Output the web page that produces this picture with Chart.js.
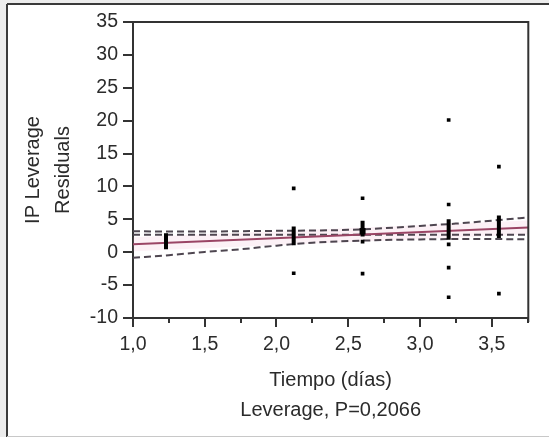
<!DOCTYPE html>
<html>
<head>
<meta charset="utf-8">
<script src="https://cdn.jsdelivr.net/npm/chart.js@4/dist/chart.umd.min.js"></script>
<style>
  html, body { margin: 0; padding: 0; background: #efefef; }
  #wrap { width: 549px; height: 437px; position: relative; }
</style>
</head>
<body>
<div id="wrap"><canvas id="c" width="549" height="437"></canvas></div>
<script>
// ---- data ----
const xTickValues = [1.0, 1.5, 2.0, 2.5, 3.0, 3.5];
const xMinorTicks = [1.25, 1.75, 2.25, 2.75, 3.25, 3.75];
const yTickStep = 5;
const xRange = [1.0, 3.755];
const yRange = [-10, 35];

// individual residual points
const pointX = [2.12, 2.12, 2.6, 2.6, 2.6, 3.2, 3.2, 3.2, 3.2, 3.2, 3.55, 3.55];
const pointY = [9.7, -3.2, 8.2, 1.6, -3.25, 20.1, 7.25, 1.2, -2.35, -6.85, 13.0, -6.3];

// dense clusters of points (drawn as thick vertical bars)
const clusterX    = [1.23, 2.12, 2.6, 3.2, 3.55];
const clusterLow  = [0.45, 1.05, 2.4, 1.9, 2.15];
const clusterHigh = [2.9, 3.9, 4.8, 5.0, 5.6];
const blobX = [2.6];
const blobLow = [2.7];
const blobHigh = [3.7];

// fitted line
const fitX = [1.0, 3.755];
const fitY = [1.2, 3.75];

// horizontal mean line
const meanY = 2.65;

// confidence curves
const ciX     = [1.0, 1.25, 1.5, 1.75, 2.0, 2.25, 2.5, 2.75, 3.0, 3.25, 3.5, 3.755];
const ciUpper = [3.2, 3.15, 3.15, 3.2, 3.25, 3.3, 3.4, 3.65, 4.0, 4.35, 4.8, 5.3];
const ciLower = [-0.85, -0.45, 0.05, 0.45, 1.0, 1.45, 1.7, 1.85, 1.95, 2.0, 2.0, 1.95];

const xTitle = ['Tiempo (días)', 'Leverage, P=0,2066'];
const yTitle = ['IP Leverage', 'Residuals'];

// ---- styles ----
const FONT = '"Liberation Sans", Arial, sans-serif';
const TEXT = '#2b2b2b';
const AXIS = '#333333';
const DASH = '#4e4650';
const FIT = '#9a4565';

const datasets = [];
datasets.push({
  type: 'scatter',
  data: pointX.map((x, i) => ({ x, y: pointY[i] })),
  pointStyle: 'rect', pointRadius: 2.6, pointBorderWidth: 0,
  backgroundColor: '#000', borderColor: '#000'
});
clusterX.forEach((x, i) => {
  datasets.push({
    type: 'line',
    data: [{ x, y: clusterLow[i] }, { x, y: clusterHigh[i] }],
    borderColor: '#000', borderWidth: 4, borderCapStyle: 'butt',
    pointRadius: 0
  });
});
blobX.forEach((x, i) => {
  datasets.push({
    type: 'line',
    data: [{ x, y: blobLow[i] }, { x, y: blobHigh[i] }],
    borderColor: '#000', borderWidth: 6, borderCapStyle: 'butt',
    pointRadius: 0
  });
});
datasets.push({
  type: 'line',
  data: fitX.map((x, i) => ({ x, y: fitY[i] })),
  borderColor: FIT, borderWidth: 2, pointRadius: 0
});
datasets.push({
  type: 'line',
  data: [{ x: xRange[0], y: meanY }, { x: xRange[1], y: meanY }],
  borderColor: DASH, borderWidth: 2, borderDash: [7, 4], pointRadius: 0
});
datasets.push({
  type: 'line',
  data: ciX.map((x, i) => ({ x, y: ciUpper[i] })),
  borderColor: DASH, borderWidth: 2, borderDash: [7, 4], pointRadius: 0,
  cubicInterpolationMode: 'monotone'
});
datasets.push({
  type: 'line',
  data: ciX.map((x, i) => ({ x, y: ciLower[i] })),
  borderColor: DASH, borderWidth: 2, borderDash: [7, 4], pointRadius: 0,
  cubicInterpolationMode: 'monotone'
});
// faint pink glow around the fitted line
datasets.push({
  type: 'line',
  data: fitX.map((x, i) => ({ x, y: fitY[i] })),
  borderColor: 'rgba(236,170,196,0.16)', borderWidth: 14, pointRadius: 0
});

const framePlugin = {
  id: 'frame',
  beforeDraw(chart) {
    const ctx = chart.ctx;
    ctx.save();
    ctx.fillStyle = '#ececec';
    ctx.fillRect(0, 0, chart.width, chart.height);
    ctx.fillStyle = '#ffffff';
    ctx.fillRect(7, 4, chart.width - 7, 432);
    ctx.strokeStyle = '#3a3a3a';
    ctx.lineWidth = 2;
    ctx.beginPath();
    ctx.moveTo(7, 4); ctx.lineTo(chart.width, 4);
    ctx.moveTo(7, 4); ctx.lineTo(7, chart.height);
    ctx.stroke();
    ctx.strokeStyle = '#c8c8c8';
    ctx.lineWidth = 1;
    ctx.beginPath();
    ctx.moveTo(7, 436.5); ctx.lineTo(chart.width, 436.5);
    ctx.stroke();
    ctx.restore();
  },
  afterDraw(chart) {
    const ctx = chart.ctx;
    const a = chart.chartArea;
    const xs = chart.scales.x;
    ctx.save();
    ctx.strokeStyle = AXIS;
    ctx.lineWidth = 2;
    ctx.beginPath();
    ctx.moveTo(a.left, a.top); ctx.lineTo(a.right, a.top);
    ctx.moveTo(a.right, a.top - 1); ctx.lineTo(a.right, a.bottom + 4);
    xMinorTicks.forEach(v => {
      const px = Math.round(xs.getPixelForValue(v));
      if (px <= a.right) { ctx.moveTo(px, a.bottom); ctx.lineTo(px, a.bottom + 5); }
    });
    ctx.stroke();
    ctx.restore();
  }
};

new Chart(document.getElementById('c'), {
  type: 'scatter',
  data: { datasets },
  options: {
    responsive: false,
    animation: false,
    events: [],
    layout: { padding: { left: 0, top: 22, right: 20.7, bottom: 0 } },
    plugins: { legend: { display: false }, tooltip: { enabled: false } },
    scales: {
      x: {
        type: 'linear', position: 'bottom',
        min: xRange[0], max: xRange[1],
        afterBuildTicks: s => { s.ticks = xTickValues.map(v => ({ value: v })); },
        afterFit: s => { s.height = 119; },
        grid: { drawOnChartArea: false, drawTicks: true, tickLength: 9, color: AXIS, lineWidth: 2 },
        border: { display: true, color: AXIS, width: 2 },
        ticks: {
          color: TEXT, padding: 6, maxRotation: 0, autoSkip: false,
          font: { family: FONT, size: 19.5 },
          callback: v => Number(v).toFixed(1).replace('.', ',')
        },
        title: {
          display: true, text: xTitle, color: TEXT,
          font: { family: FONT, size: 20, lineHeight: 1.5 },
          padding: { top: 0, bottom: 12 }
        }
      },
      y: {
        type: 'linear', position: 'left',
        min: yRange[0], max: yRange[1],
        afterFit: s => { s.width = 133; },
        grid: { drawOnChartArea: false, drawTicks: true, tickLength: 10, color: AXIS, lineWidth: 2 },
        border: { display: true, color: AXIS, width: 2 },
        ticks: {
          stepSize: yTickStep, color: TEXT, padding: 5,
          font: { family: FONT, size: 19.5 },
          callback: v => String(v)
        },
        title: {
          display: true, text: yTitle, color: TEXT,
          font: { family: FONT, size: 20, lineHeight: 1.5 },
          padding: { top: 18, bottom: 0 }
        }
      }
    }
  },
  plugins: [framePlugin]
});
</script>
</body>
</html>
